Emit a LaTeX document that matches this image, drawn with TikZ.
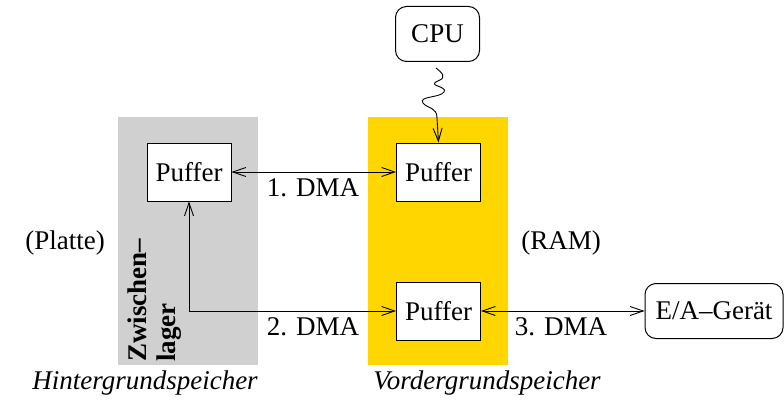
\documentclass[tikz,border=0pt]{standalone}
\usepackage{fontspec}
\setmainfont{Liberation Serif}
\usetikzlibrary{arrows.meta}
\definecolor{grayband}{RGB}{208,208,208}
\definecolor{goldband}{RGB}{255,214,0}
\tikzset{
  txt/.style={font=\fontsize{27}{32}\selectfont, inner sep=0pt},
  buf/.style={draw, fill=white, line width=1pt, minimum width=84pt, minimum height=58pt, font=\fontsize{27}{32}\selectfont},
  dev/.style={draw, fill=white, rounded corners=11pt, line width=1pt, minimum height=55pt, font=\fontsize{27}{32}\selectfont},
  link/.style={line width=0.9pt, {Straight Barb[length=13pt,width=9pt]}-{Straight Barb[length=13pt,width=9pt]}},
  onearrow/.style={line width=0.9pt, -{Straight Barb[length=13pt,width=9pt]}}
}
\begin{document}
\begin{tikzpicture}[x=1pt,y=-1pt]
\useasboundingbox (0,0) rectangle (784,401);
\fill[grayband] (118,117) rectangle (258,365);
\fill[goldband] (368,117) rectangle (508,365);

\node[dev, minimum width=84pt] (cpu) at (437.5,34) {CPU};
\node[buf] (pl) at (189,172) {Puffer};
\node[buf] (pr1) at (438.5,172) {Puffer};
\node[buf] (pr2) at (438.5,311) {Puffer};
\node[dev, minimum width=138pt] (ea) at (714,311) {E/A–Gerät};

\draw[link] (pl.east) -- (pr1.west);
\draw[link] (pl.south) |- (pr2.west);
\draw[link] (pr2.east) -- (ea.west);

\draw[onearrow] (cpu.south) ++(-1.5,6) coordinate (s0)
  .. controls (441,72) and (448,77) .. (438,81)
  .. controls (426,86) and (448,86) .. (444,92)
  .. controls (440,98) and (418,96) .. (423,103)
  .. controls (428,109) and (437,107) .. (437,118)
  -- (pr1.north);

\node[txt] (l1) at (313,188) {1. DMA};
\node[txt] (l2) at (313,327) {2. DMA};
\node[txt] (l3) at (561,327) {3. DMA};
\node[txt] (platte) at (65,243) {(Platte)};
\node[txt] (ram) at (561,243) {(RAM)};
\node[txt, font=\fontsize{27}{32}\selectfont\itshape] (hg) at (145,383) {Hintergrundspeicher};
\node[txt, font=\fontsize{27}{32}\selectfont\itshape] (vg) at (487,383) {Vordergrundspeicher};
\node[txt, font=\fontsize{27}{29}\selectfont\bfseries, rotate=90, anchor=west, align=left] (zw) at (155,362) {Zwischen–\\lager};
\end{tikzpicture}
\end{document}
